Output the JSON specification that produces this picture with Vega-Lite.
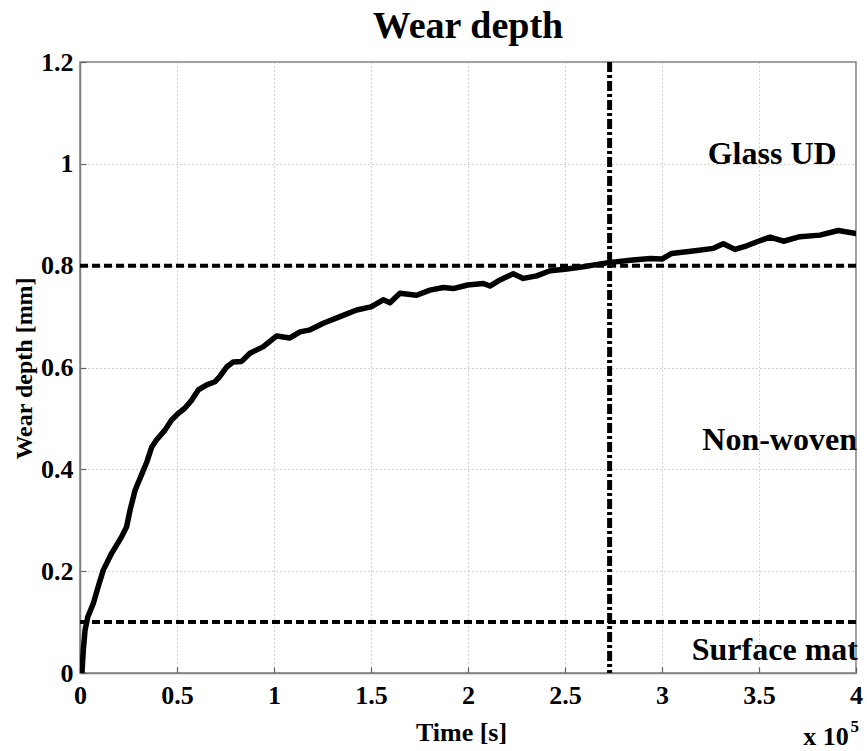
{
  "$schema": "https://vega.github.io/schema/vega-lite/v6.json",
  "width": 776,
  "height": 611,
  "autosize": {"type": "none"},
  "padding": {"left": 80, "top": 62, "right": 11, "bottom": 78},
  "background": "white",
  "title": {
    "text": "Wear depth",
    "font": "Liberation Serif",
    "fontSize": 38,
    "fontWeight": "bold",
    "color": "black",
    "frame": "group",
    "anchor": "middle",
    "offset": 3
  },
  "config": {
    "view": {"stroke": "#808080", "strokeWidth": 1.5},
    "axis": {
      "labelFont": "Liberation Serif",
      "labelFontWeight": "bold",
      "labelFontSize": 26,
      "labelColor": "black",
      "titleFont": "Liberation Serif",
      "titleFontWeight": "bold",
      "titleFontSize": 26,
      "titleColor": "black",
      "domainColor": "#808080",
      "domainWidth": 1.5,
      "tickColor": "#606060",
      "tickWidth": 1.2,
      "tickSize": -6,
      "gridColor": "#a8a8a8",
      "gridDash": [1, 3],
      "gridWidth": 1
    }
  },
  "datasets": {
    "wear": [
      {"time": 0.01, "depth": 0.0},
      {"time": 0.017, "depth": 0.045},
      {"time": 0.026, "depth": 0.084},
      {"time": 0.04, "depth": 0.11},
      {"time": 0.069, "depth": 0.137},
      {"time": 0.094, "depth": 0.17},
      {"time": 0.12, "depth": 0.202},
      {"time": 0.163, "depth": 0.235},
      {"time": 0.215, "depth": 0.268},
      {"time": 0.24, "depth": 0.287},
      {"time": 0.258, "depth": 0.32},
      {"time": 0.284, "depth": 0.359},
      {"time": 0.318, "depth": 0.39},
      {"time": 0.345, "depth": 0.415},
      {"time": 0.37, "depth": 0.444},
      {"time": 0.395, "depth": 0.458},
      {"time": 0.438, "depth": 0.477},
      {"time": 0.472, "depth": 0.497},
      {"time": 0.507, "depth": 0.51},
      {"time": 0.54, "depth": 0.52},
      {"time": 0.576, "depth": 0.536},
      {"time": 0.61, "depth": 0.556},
      {"time": 0.653, "depth": 0.566},
      {"time": 0.696, "depth": 0.572},
      {"time": 0.72, "depth": 0.582},
      {"time": 0.756, "depth": 0.601},
      {"time": 0.79, "depth": 0.611},
      {"time": 0.833, "depth": 0.612},
      {"time": 0.876, "depth": 0.628},
      {"time": 0.945, "depth": 0.641},
      {"time": 1.014, "depth": 0.662},
      {"time": 1.082, "depth": 0.658},
      {"time": 1.134, "depth": 0.67},
      {"time": 1.186, "depth": 0.674},
      {"time": 1.254, "depth": 0.687},
      {"time": 1.34, "depth": 0.7},
      {"time": 1.426, "depth": 0.713},
      {"time": 1.5, "depth": 0.719},
      {"time": 1.563, "depth": 0.733},
      {"time": 1.598, "depth": 0.727},
      {"time": 1.649, "depth": 0.746},
      {"time": 1.735, "depth": 0.742},
      {"time": 1.804, "depth": 0.752},
      {"time": 1.873, "depth": 0.757},
      {"time": 1.924, "depth": 0.755},
      {"time": 1.998, "depth": 0.762},
      {"time": 2.079, "depth": 0.765},
      {"time": 2.113, "depth": 0.76},
      {"time": 2.165, "depth": 0.772},
      {"time": 2.233, "depth": 0.784},
      {"time": 2.285, "depth": 0.775},
      {"time": 2.354, "depth": 0.78},
      {"time": 2.423, "depth": 0.79},
      {"time": 2.5, "depth": 0.793},
      {"time": 2.594, "depth": 0.798},
      {"time": 2.723, "depth": 0.806},
      {"time": 2.85, "depth": 0.811},
      {"time": 2.94, "depth": 0.814},
      {"time": 3.0, "depth": 0.813},
      {"time": 3.05, "depth": 0.824},
      {"time": 3.16, "depth": 0.829},
      {"time": 3.265, "depth": 0.834},
      {"time": 3.316, "depth": 0.843},
      {"time": 3.376, "depth": 0.832},
      {"time": 3.437, "depth": 0.839},
      {"time": 3.497, "depth": 0.848},
      {"time": 3.557, "depth": 0.856},
      {"time": 3.626, "depth": 0.848},
      {"time": 3.711, "depth": 0.857},
      {"time": 3.814, "depth": 0.86},
      {"time": 3.909, "depth": 0.869},
      {"time": 4.0, "depth": 0.863}
    ],
    "zones": [
      {"label": "Glass UD", "time": 3.9, "depth": 1.0},
      {"label": "Non-woven", "time": 4.005, "depth": 0.438},
      {"label": "Surface mat", "time": 4.01, "depth": 0.026}
    ],
    "limits": [
      {"depth_limit": 0.8},
      {"depth_limit": 0.1}
    ],
    "switch": [
      {"time_switch": 2.73}
    ]
  },
  "layer": [
    {
      "data": {"name": "wear"},
      "mark": {"type": "line", "color": "black", "strokeWidth": 5.5, "strokeJoin": "round", "strokeCap": "round", "clip": true},
      "encoding": {
        "x": {
          "field": "time", "type": "quantitative",
          "scale": {"domain": [0, 4], "nice": false, "zero": false},
          "axis": {
            "values": [0, 0.5, 1, 1.5, 2, 2.5, 3, 3.5, 4],
            "format": "~g",
            "title": "Time [s]",
            "labelPadding": 36,
            "labelBaseline": "alphabetic",
            "labelFlush": false,
            "titleX": 381,
            "titleY": 67,
            "titleAlign": "center",
            "titleBaseline": "alphabetic"
          }
        },
        "y": {
          "field": "depth", "type": "quantitative",
          "scale": {"domain": [0, 1.2], "nice": false},
          "axis": {
            "values": [0, 0.2, 0.4, 0.6, 0.8, 1, 1.2],
            "format": "~g",
            "title": "Wear depth [mm]",
            "titleFontSize": 24,
            "labelPadding": 13,
            "labelFlush": false,
            "titleX": -49,
            "titleY": 306,
            "titleAngle": -90,
            "titleAlign": "center",
            "titleBaseline": "alphabetic"
          }
        }
      }
    },
    {
      "data": {"name": "limits"},
      "mark": {"type": "rule", "color": "black", "strokeWidth": 4, "strokeDash": [8, 4]},
      "encoding": {"y": {"field": "depth_limit", "type": "quantitative"}}
    },
    {
      "data": {"name": "switch"},
      "mark": {"type": "rule", "color": "black", "strokeWidth": 5, "strokeDash": [10, 3, 3, 3]},
      "encoding": {"x": {"field": "time_switch", "type": "quantitative"}}
    },
    {
      "data": {"name": "zones"},
      "mark": {"type": "text", "font": "Liberation Serif", "fontWeight": "bold", "fontSize": 32, "align": "right", "baseline": "alphabetic", "color": "black"},
      "encoding": {
        "x": {"field": "time", "type": "quantitative"},
        "y": {"field": "depth", "type": "quantitative"},
        "text": {"field": "label"}
      }
    },
    {
      "data": {"values": [{}]},
      "mark": {"type": "text", "font": "Liberation Serif", "fontWeight": "bold", "fontSize": 26, "align": "right", "baseline": "alphabetic", "color": "black", "text": "x 10"},
      "encoding": {"x": {"datum": 3.962}, "y": {"datum": -0.141}}
    },
    {
      "data": {"values": [{}]},
      "mark": {"type": "text", "font": "Liberation Serif", "fontWeight": "bold", "fontSize": 17, "align": "left", "baseline": "alphabetic", "color": "black", "text": "5"},
      "encoding": {"x": {"datum": 3.972}, "y": {"datum": -0.116}}
    }
  ]
}
